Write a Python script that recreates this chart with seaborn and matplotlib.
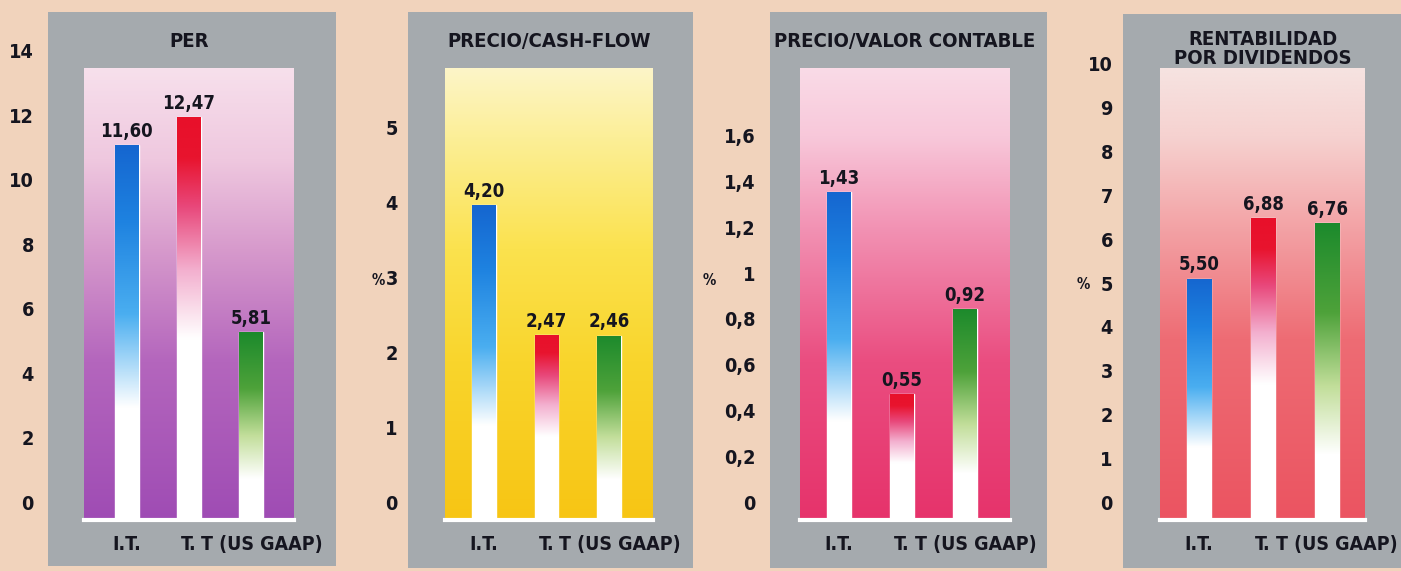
import matplotlib
matplotlib.use('Agg')
import matplotlib.pyplot as plt
from matplotlib.colors import LinearSegmentedColormap
from matplotlib.patches import Rectangle
from matplotlib.transforms import ScaledTranslation
from matplotlib import font_manager
import numpy as np
import pandas as pd
import seaborn as sns

# datos
categorias = ['I.T.', 'T.', 'T (US GAAP)']
per = [11.60, 12.47, 5.81]
precio_cash_flow = [4.20, 2.47, 2.46]
precio_valor_contable = [1.43, 0.55, 0.92]
rentabilidad_dividendos = [5.50, 6.88, 6.76]

titulos = ['PER', 'PRECIO/CASH-FLOW', 'PRECIO/VALOR CONTABLE', 'RENTABILIDAD\nPOR DIVIDENDOS']
unidades = ['', '%', '%', '%']
ticks_per = [0, 2, 4, 6, 8, 10, 12, 14]
ticks_cf = [0, 1, 2, 3, 4, 5]
ticks_vc = [0, 0.2, 0.4, 0.6, 0.8, 1, 1.2, 1.4, 1.6]
ticks_rd = [0, 1, 2, 3, 4, 5, 6, 7, 8, 9, 10]

series = [per, precio_cash_flow, precio_valor_contable, rentabilidad_dividendos]
ticks = [ticks_per, ticks_cf, ticks_vc, ticks_rd]

# estilo
sns.set_theme(style='white')
fuentes = font_manager.fontManager.ttflist
if any(f.name == 'Liberation Sans Narrow' for f in fuentes):
    fuente, estrecha, escala = 'Liberation Sans Narrow', 'normal', 1.0
elif any(f.name == 'DejaVu Sans' and f.stretch == 'condensed' and f.weight in (700, 'bold') for f in fuentes):
    fuente, estrecha, escala = 'DejaVu Sans', 'condensed', 0.86
else:
    fuente, estrecha, escala = 'DejaVu Sans', 'normal', 0.76
plt.rcParams['font.family'] = [fuente, 'DejaVu Sans']
plt.rcParams['font.weight'] = 'bold'
plt.rcParams['font.stretch'] = estrecha

ANCHO, ALTO = 1401, 571
FONDO = '#f1d3bc'
GRIS = '#a5aaae'
TEXTO = '#15151f'

colores_barra = ['#1566d0', '#e8102a', '#1c8a2c']
cmaps_barra = [
    LinearSegmentedColormap.from_list('azul', [(0, 'white'), (0.3, 'white'), (0.55, '#4aaef0'),
                                               (0.8, '#1e82e0'), (1, '#1566d0')]),
    LinearSegmentedColormap.from_list('rojo', [(0, 'white'), (0.45, 'white'), (0.62, '#f3b0cf'),
                                               (0.78, '#e8477a'), (0.9, '#e8142e'), (1, '#e8102a')]),
    LinearSegmentedColormap.from_list('verde', [(0, 'white'), (0.22, 'white'), (0.45, '#c2de9a'),
                                                (0.7, '#4ea23a'), (1, '#1c8a2c')]),
]

paneles = [
    dict(marco=(48, 12, 336, 566), interior=(84, 68, 294, 520), xlim=(-0.69, 2.69), ytop=14.0,
         pad=36, ylab=None, tpad=15,
         fondo=[(0, '#9f4cb4'), (0.35, '#b466bd'), (0.6, '#d79acc'), (0.8, '#efc8df'), (1, '#f7e0ec')]),
    dict(marco=(408, 12, 693, 568), interior=(445, 68, 653, 520), xlim=(-0.62, 2.70), ytop=6.03,
         pad=34, ylab=(-0.32, 0.53), tpad=15,
         fondo=[(0, '#f7c514'), (0.35, '#f9d52c'), (0.6, '#fbe24e'), (0.85, '#fcef98'), (1, '#fdf5c8')]),
    dict(marco=(770, 12, 1047, 568), interior=(800, 68, 1010, 520), xlim=(-0.62, 2.71), ytop=1.97,
         pad=32, ylab=(-0.43, 0.53), tpad=15,
         fondo=[(0, '#e6336b'), (0.35, '#ea4d80'), (0.65, '#f293b4'), (0.85, '#f8c8da'), (1, '#fadbe7')]),
    dict(marco=(1123, 14, 1401, 568), interior=(1160, 68, 1365, 520), xlim=(-0.61, 2.59), ytop=10.3,
         pad=34, ylab=(-0.376, 0.52), tpad=1,
         fondo=[(0, '#eb5461'), (0.4, '#ee6c74'), (0.65, '#f3a3a6'), (0.85, '#f6d2d0'), (1, '#f6e3e1')]),
]
etiquetas_x = [(0.0, 'center'), (1.0, 'center'), (1.2, 'left')]


def rect_fig(x0, y0, x1, y1):
    return [x0 / ANCHO, 1 - y1 / ALTO, (x1 - x0) / ANCHO, (y1 - y0) / ALTO]


def coma(v):
    if float(v).is_integer():
        return str(int(v))
    return ('%g' % v).replace('.', ',')


fig = plt.figure(figsize=(ANCHO / 100, ALTO / 100), dpi=100)
fig.patch.set_facecolor(FONDO)
gradiente = np.linspace(0, 1, 256).reshape(-1, 1)
subir = ScaledTranslation(0, 6 / 100, fig.dpi_scale_trans)

for valores, tks, titulo, unidad, p in zip(series, ticks, titulos, unidades, paneles):
    x0, y0, x1, y1 = p['marco']
    fig.add_artist(Rectangle((x0 / ANCHO, 1 - y1 / ALTO), (x1 - x0) / ANCHO, (y1 - y0) / ALTO,
                             transform=fig.transFigure, facecolor=GRIS, edgecolor='none', zorder=-1))

    ax = fig.add_axes(rect_fig(*p['interior']))
    ax.set_facecolor('none')
    df = pd.DataFrame({'categoria': categorias, 'valor': valores})
    sns.barplot(data=df, x='categoria', y='valor', hue='categoria', palette=colores_barra,
                saturation=1, width=0.38, legend=False, ax=ax, zorder=2)

    cmap_fondo = LinearSegmentedColormap.from_list('fondo', p['fondo'])
    ax.imshow(gradiente, extent=(*p['xlim'], 0, p['ytop']), origin='lower', aspect='auto',
              cmap=cmap_fondo, zorder=0)

    for barra, cmap in zip(ax.patches, cmaps_barra):
        bx, by = barra.get_x(), barra.get_y()
        img = ax.imshow(gradiente, extent=(bx, bx + barra.get_width(), by, by + barra.get_height()),
                        origin='lower', aspect='auto', cmap=cmap, zorder=3)
        img.set_clip_path(barra)

    for cont, v in zip(ax.containers, valores):
        ax.bar_label(cont, labels=[('%.2f' % v).replace('.', ',')], padding=3,
                     fontsize=15.5 * escala, color=TEXTO, fontweight='bold', zorder=5)

    ax.set_xlim(p['xlim'])
    ax.set_ylim(0, p['ytop'])
    ax.set_yticks(tks, [coma(t) for t in tks])
    ax.tick_params(axis='y', length=0, pad=p['pad'], labelsize=16.5 * escala, labelcolor=TEXTO)
    for t in ax.get_yticklabels():
        t.set_verticalalignment('bottom')
        t.set_transform(t.get_transform() + subir)
    ax.set_xticks([])
    ax.set_xlabel('')
    ax.set_ylabel('')

    for i, (cat, (dx, ha)) in enumerate(zip(categorias, etiquetas_x)):
        ax.text(dx, -0.055, cat, transform=ax.get_xaxis_transform(), ha=ha, va='center',
                fontsize=16.3 * escala, color=TEXTO, fontweight='bold')

    if p['ylab'] is not None:
        ax.set_ylabel(unidad, rotation=0, fontsize=12.5 * escala, color=TEXTO, fontweight='bold',
                      ha='center', va='center')
        ax.yaxis.set_label_coords(*p['ylab'])

    ax.set_title(titulo, pad=p['tpad'], fontsize=17 * escala, fontweight='bold', color=TEXTO,
                 linespacing=1.0)

    for lado in ['left', 'top', 'right']:
        ax.spines[lado].set_visible(False)
    ax.spines['bottom'].set_color('white')
    ax.spines['bottom'].set_linewidth(3)

fig.savefig('out.png', dpi=100, facecolor=FONDO)
